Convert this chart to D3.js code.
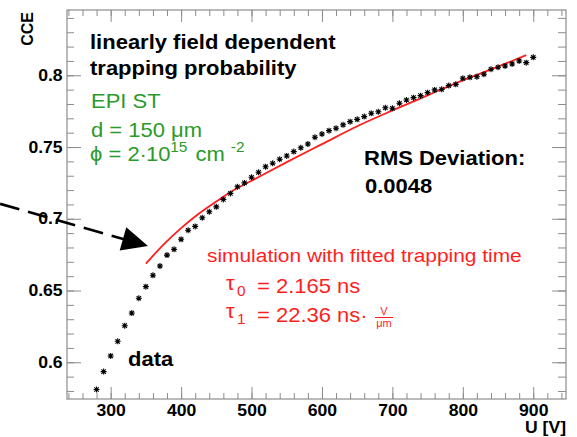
<!DOCTYPE html>
<html>
<head>
<meta charset="utf-8">
<script src="https://cdn.jsdelivr.net/npm/d3@7.9.0/dist/d3.min.js"></script>
<style>
  body { margin: 0; background: #fff; }
  svg { display: block; font-family: "Liberation Sans", Arial, sans-serif; }
</style>
</head>
<body>
<svg id="chart" width="577" height="437"></svg>
<script>
// ---- data ----
const voltage = [280, 290, 300, 310, 320, 330, 340, 350, 360, 370, 380, 390, 400, 410, 420, 430, 440, 450,
  460, 470, 480, 490, 500, 510, 520, 530, 540, 550, 560, 570, 580, 590, 600, 610, 620, 630, 640, 650,
  660, 670, 680, 690, 700, 710, 720, 730, 740, 750, 760, 770, 780, 790, 800, 810, 820, 830, 840, 850,
  860, 870, 880, 890, 900];
const cce = [0.581, 0.5935, 0.6044, 0.6146, 0.6255, 0.6343, 0.6446, 0.6527, 0.6606, 0.6671, 0.6747, 0.6787,
  0.6857, 0.6920, 0.6947, 0.7007, 0.7049, 0.7083, 0.7135, 0.7177, 0.7223, 0.7250, 0.7289, 0.7324, 0.7363,
  0.7387, 0.7415, 0.7438, 0.7468, 0.7495, 0.7521, 0.7568, 0.7591, 0.7614, 0.7631, 0.7655, 0.7677, 0.7693,
  0.7712, 0.7735, 0.7746, 0.7774, 0.7770, 0.7805, 0.7828, 0.7844, 0.7858, 0.7879, 0.7898, 0.7902, 0.7928,
  0.7937, 0.7979, 0.7986, 0.7990, 0.8007, 0.8042, 0.8056, 0.8065, 0.8079, 0.8100, 0.8088, 0.8125];

const simVoltage = [350, 375, 400, 425, 450, 475, 500, 550, 600, 650, 700, 750, 800, 850, 890];
const simCCE = [0.6687, 0.6820, 0.6935, 0.7035, 0.7120, 0.7200, 0.7265, 0.7395, 0.7520, 0.7645,
  0.7755, 0.7860, 0.7965, 0.8060, 0.8140];

const xTicks = [300, 400, 500, 600, 700, 800, 900];
const yTicks = [0.6, 0.65, 0.7, 0.75, 0.8];

// arrow annotation (data units)
const arrowFrom = [143, 0.7104];
const arrowTo = [353, 0.681];

const frameGrey = '#8c8c8c';
const red = '#ff1e1e';
const green = '#2a9a2a';
const stretch = 'scale(1.1,1)';

const svg = d3.select('#chart');

const x = d3.scaleLinear().domain([238, 946.5]).range([67, 566]);
const y = d3.scaleLinear().domain([0.5744, 0.8455]).range([399, 10]);

// ---- frame + ticks (ROOT style, inward) ----
const xMinor = d3.range(240, 947, 20);
const yMinor = d3.range(58, 85).map(v => v / 100);

function drawAxis(axis, transform, labels) {
  const g = svg.append('g').attr('transform', transform).call(axis);
  g.select('.domain').remove();
  g.selectAll('line').attr('stroke', frameGrey).attr('stroke-width', 1);
  if (!labels) g.selectAll('text').remove();
  return g;
}

drawAxis(d3.axisBottom(x).tickValues(xMinor).tickSize(-6).tickFormat(''), 'translate(0,399)');
drawAxis(d3.axisTop(x).tickValues(xMinor).tickSize(-6).tickFormat(''), 'translate(0,10)');
drawAxis(d3.axisTop(x).tickValues(xTicks).tickSize(-12).tickFormat(''), 'translate(0,10)');
drawAxis(d3.axisLeft(y).tickValues(yMinor).tickSize(-7).tickFormat(''), 'translate(67,0)');
drawAxis(d3.axisRight(y).tickValues(yMinor).tickSize(-8).tickFormat(''), 'translate(566,0)');
drawAxis(d3.axisRight(y).tickValues(yTicks).tickSize(-14).tickFormat(''), 'translate(566,0)');

const xAxis = drawAxis(d3.axisBottom(x).tickValues(xTicks).tickSize(-12).tickPadding(6)
  .tickFormat(d3.format('d')), 'translate(0,399)', true);
const yAxis = drawAxis(d3.axisLeft(y).tickValues(yTicks).tickSize(-14).tickPadding(4)
  .tickFormat(d => String(d)), 'translate(67,0)', true);

[xAxis, yAxis].forEach(g => g.selectAll('text')
  .attr('fill', '#000')
  .attr('font-size', 16)
  .attr('font-weight', 'bold')
  .attr('font-family', '"Liberation Sans", Arial, sans-serif')
  .attr('transform', stretch));

svg.append('rect')
  .attr('x', 67).attr('y', 10)
  .attr('width', 566 - 67).attr('height', 399 - 10)
  .attr('fill', 'none')
  .attr('stroke', frameGrey)
  .attr('stroke-width', 1.2);

// axis titles
svg.append('text')
  .attr('transform', 'translate(33,12) rotate(-90)')
  .attr('text-anchor', 'end')
  .attr('font-size', 16).attr('font-weight', 'bold')
  .text('CCE');

svg.append('text')
  .attr('transform', `translate(566,433) ${stretch}`)
  .attr('text-anchor', 'end')
  .attr('font-size', 16).attr('font-weight', 'bold')
  .text('U [V]');

// ---- simulation curve ----
const line = d3.line()
  .x((d, i) => x(simVoltage[i]))
  .y(d => y(d))
  .curve(d3.curveMonotoneX);

svg.append('path')
  .datum(simCCE)
  .attr('d', line)
  .attr('fill', 'none')
  .attr('stroke', red)
  .attr('stroke-width', 1.8);

// ---- data points (asterisk markers) ----
const star = 'M-3,0H3M0,-3V3M-2.2,-2.2L2.2,2.2M-2.2,2.2L2.2,-2.2';
svg.append('g')
  .selectAll('path')
  .data(cce)
  .join('path')
  .attr('transform', (d, i) => `translate(${x(voltage[i])},${y(d)})`)
  .attr('d', star)
  .attr('stroke', '#000')
  .attr('stroke-width', 1.1)
  .attr('fill', 'none');

// ---- arrow ----
const ax0 = x(arrowFrom[0]), ay0 = y(arrowFrom[1]);
const ax1 = x(arrowTo[0]), ay1 = y(arrowTo[1]);
const ang = Math.atan2(ay1 - ay0, ax1 - ax0);
const headLen = 26, headHalf = 12;
const bx = ax1 - headLen * Math.cos(ang), by = ay1 - headLen * Math.sin(ang);

svg.append('line')
  .attr('x1', ax0).attr('y1', ay0)
  .attr('x2', bx + 2 * Math.cos(ang)).attr('y2', by + 2 * Math.sin(ang))
  .attr('stroke', '#000')
  .attr('stroke-width', 2.6)
  .attr('stroke-dasharray', '20,9');

svg.append('path')
  .attr('d', `M${ax1},${ay1}` +
    `L${bx - headHalf * Math.sin(ang)},${by + headHalf * Math.cos(ang)}` +
    `L${bx + headHalf * Math.sin(ang)},${by - headHalf * Math.cos(ang)}Z`)
  .attr('fill', '#000');

// ---- text annotations ----
function label(px, py, str, size, color, bold) {
  return svg.append('text')
    .attr('transform', `translate(${px},${py}) ${stretch}`)
    .attr('font-size', size)
    .attr('font-weight', bold ? 'bold' : 'normal')
    .attr('fill', color)
    .text(str);
}

label(90, 49, 'linearly field dependent', 20, '#000', true);
label(90, 75, 'trapping probability', 20, '#000', true);

label(91, 108, 'EPI ST', 20, green);
label(91, 137, 'd = 150 μm', 20, green);
const phi = label(90, 161, 'ϕ = 2·', 20, green);
phi.append('tspan').attr('x', 51).text('10');
phi.append('tspan').attr('x', 73).attr('font-size', 14).attr('dy', -9).text('15');
phi.append('tspan').attr('x', 96).attr('dy', 9).text('cm');
phi.append('tspan').attr('x', 128).attr('font-size', 14).attr('dy', -9).text('-2');

label(364, 165, 'RMS Deviation:', 20, '#000', true);
label(365, 193, '0.0048', 20, '#000', true);

label(207, 262, 'simulation with fitted trapping time', 19, red);

label(226, 290, 'τ', 20, red);
label(237, 296, '0', 14, red);
label(257, 293, '= 2.165 ns', 20, red);

label(226, 318, 'τ', 20, red);
label(237, 324, '1', 14, red);
label(257, 322, '= 22.36 ns·', 20, red);
svg.append('text')
  .attr('x', 384).attr('y', 315)
  .attr('text-anchor', 'middle')
  .attr('font-size', 11).attr('fill', red)
  .text('V');
svg.append('line')
  .attr('x1', 375).attr('x2', 393)
  .attr('y1', 317.5).attr('y2', 317.5)
  .attr('stroke', red).attr('stroke-width', 1);
svg.append('text')
  .attr('x', 384).attr('y', 327)
  .attr('text-anchor', 'middle')
  .attr('font-size', 11).attr('fill', red)
  .text('μm');

label(128, 366, 'data', 20, '#000', true);
</script>
</body>
</html>
